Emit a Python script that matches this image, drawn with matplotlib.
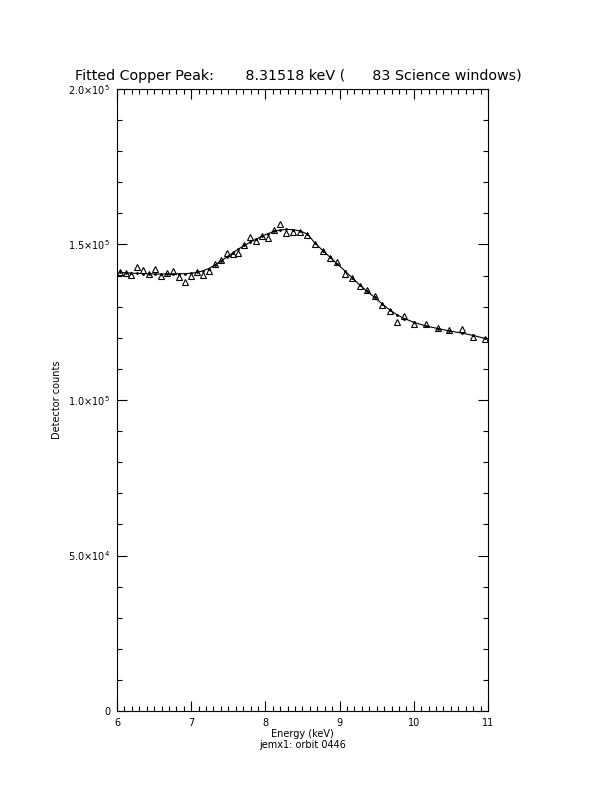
import matplotlib
matplotlib.use("Agg")
import matplotlib.pyplot as plt
from matplotlib.ticker import FixedLocator, MultipleLocator, FixedFormatter

energy = [6.044, 6.121, 6.193, 6.270, 6.350, 6.431, 6.516, 6.597, 6.678, 6.755,
          6.836, 6.916, 7.001, 7.082, 7.159, 7.236, 7.321, 7.402, 7.478, 7.559,
          7.635, 7.716, 7.796, 7.880, 7.958, 8.039, 8.120, 8.203, 8.284, 8.369,
          8.469, 8.565, 8.668, 8.772, 8.875, 8.969, 9.073, 9.171, 9.279, 9.373,
          9.473, 9.575, 9.675, 9.778, 9.872, 10.007, 10.164, 10.323, 10.481, 10.645,
          10.804, 10.964]
counts = [141060, 140740, 140100, 142670, 141800, 140420, 142120, 139970, 140740, 141580,
          139450, 138040, 139970, 141060, 140100, 141480, 143830, 145010, 147270, 146950,
          147170, 149740, 152510, 151220, 152890, 152250, 154820, 156690, 153630, 153920,
          153860, 153050, 150060, 147840, 145500, 144370, 140580, 139130, 136590, 135210,
          133380, 130640, 128710, 125240, 126850, 124280, 124370, 123310, 122510, 122730,
          120360, 119680]
model = [141000, 140900, 140800, 140710, 140640, 140580, 140510, 140480, 140480, 140510,
         140580, 140640, 140770, 141060, 141540, 142280, 143410, 144690, 145980, 147270,
         148550, 149680, 150800, 151770, 152730, 153530, 154240, 154660, 154850, 154790,
         154340, 153370, 150480, 148070, 145820, 143730, 141480, 139230, 136820, 134890,
         132960, 130870, 128940, 127330, 126200, 124920, 123790, 122990, 122190, 121540,
         120740, 119780]

ytick_vals = [0, 50000, 100000, 150000, 200000]
ytick_labels = ["0", r"5.0$\times$10$^{4}$", r"1.0$\times$10$^{5}$",
                r"1.5$\times$10$^{5}$", r"2.0$\times$10$^{5}$"]
xtick_vals = [6, 7, 8, 9, 10, 11]
xtick_labels = ["6", "7", "8", "9", "10", "11"]

title_text = "Fitted Copper Peak:       8.31518 keV (      83 Science windows)"

fig = plt.figure(figsize=(6.12, 7.92), dpi=100)
ax = fig.add_axes([117/612, 1-711/792, (488-117)/612, (711-89)/792])

ax.plot(energy, model, color="black", lw=0.8, marker=".", markersize=2)
ax.plot(energy, counts, linestyle="none", marker="^", markersize=5,
        markerfacecolor="none", markeredgecolor="black", markeredgewidth=0.8)

ax.set_xlim(6, 11)
ax.set_ylim(0, 200000)
ax.xaxis.set_major_locator(FixedLocator(xtick_vals))
ax.xaxis.set_major_formatter(FixedFormatter(xtick_labels))
ax.xaxis.set_minor_locator(MultipleLocator(0.1))
ax.yaxis.set_major_locator(FixedLocator(ytick_vals))
ax.yaxis.set_major_formatter(FixedFormatter(ytick_labels))
ax.yaxis.set_minor_locator(MultipleLocator(10000))

ax.tick_params(which="both", direction="in", top=True, right=True, width=0.8,
               labelsize=7, pad=5)
ax.tick_params(which="major", length=7)
ax.tick_params(which="minor", length=3.5)
for s in ax.spines.values():
    s.set_linewidth(0.8)

ax.set_xlabel("Energy (keV)\njemx1: orbit 0446", fontsize=7, labelpad=1,
              linespacing=1.1)
ax.set_ylabel("Detector counts", fontsize=7, labelpad=4)
fig.text(75/612, 1-80/792, title_text, fontsize=10.3, ha="left", va="baseline")

fig.savefig("out.png", dpi=100, facecolor="white")
